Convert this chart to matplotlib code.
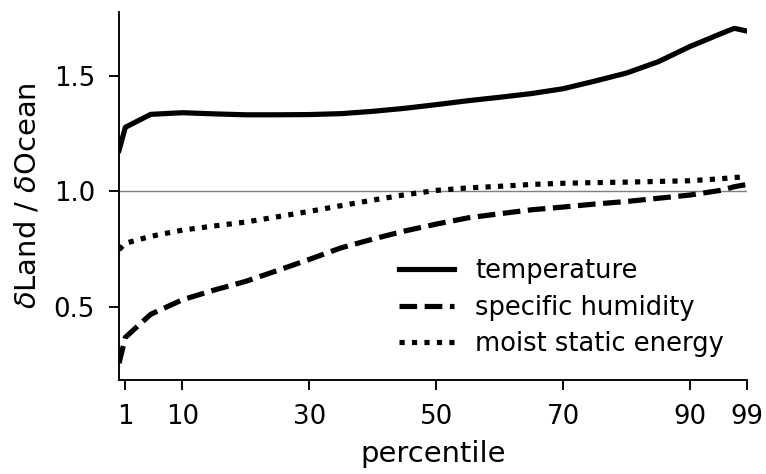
import numpy as np
import matplotlib.pyplot as plt

percentiles = [0, 1, 5, 10, 15, 20, 25, 30, 35, 40, 45, 50, 55, 60, 65, 70,
               75, 80, 85, 90, 95, 97, 99]
temperature = [1.178, 1.278, 1.334, 1.341, 1.336, 1.332, 1.332, 1.333, 1.337,
               1.347, 1.36, 1.376, 1.393, 1.408, 1.424, 1.445, 1.478, 1.513,
               1.562, 1.628, 1.685, 1.707, 1.695]
specific_humidity = [0.255, 0.367, 0.467, 0.53, 0.572, 0.61, 0.657, 0.705,
                     0.755, 0.793, 0.828, 0.858, 0.885, 0.903, 0.92, 0.932,
                     0.945, 0.956, 0.97, 0.984, 1.005, 1.02, 1.03]
moist_static_energy = [0.747, 0.775, 0.805, 0.832, 0.85, 0.867, 0.89, 0.913,
                       0.938, 0.962, 0.985, 1.004, 1.015, 1.022, 1.03, 1.035,
                       1.038, 1.04, 1.043, 1.046, 1.055, 1.06, 1.063]

xticks = [1, 10, 30, 50, 70, 90, 99]
yticks = [0.5, 1.0, 1.5]

DPI = 170
fig = plt.figure(figsize=(766 / DPI, 474 / DPI), dpi=DPI)
ax = fig.add_axes([0.1554, 0.1983, 0.8198, 0.777])

lw = 2.2
ax.axhline(1.0, color='grey', lw=0.6, zorder=1)
ax.plot(percentiles, temperature, color='k', lw=lw, ls='-', label='temperature')
ax.plot(percentiles, specific_humidity, color='k', lw=lw, ls=(0, (3.4, 1.45)),
        label='specific humidity')
ax.plot(percentiles, moist_static_energy, color='k', lw=lw, ls=(0, (1, 1.4)),
        label='moist static energy')

ax.set_xlim(0, 99)
ax.set_ylim(0.182, 1.779)
ax.set_xticks(xticks)
ax.set_yticks(yticks)
ax.tick_params(length=4.2, pad=6, labelsize=11)
ax.set_xlabel('percentile', fontsize=12.3, labelpad=4)
ax.set_ylabel(r'$\delta$Land / $\delta$Ocean', fontsize=12.3, labelpad=5)

for side in ['top', 'right']:
    ax.spines[side].set_visible(False)

ax.legend(loc='lower right', frameon=False, fontsize=10.9, handlelength=2.15,
          labelspacing=0.4)

plt.savefig('out.png', dpi=DPI)
plt.close()
